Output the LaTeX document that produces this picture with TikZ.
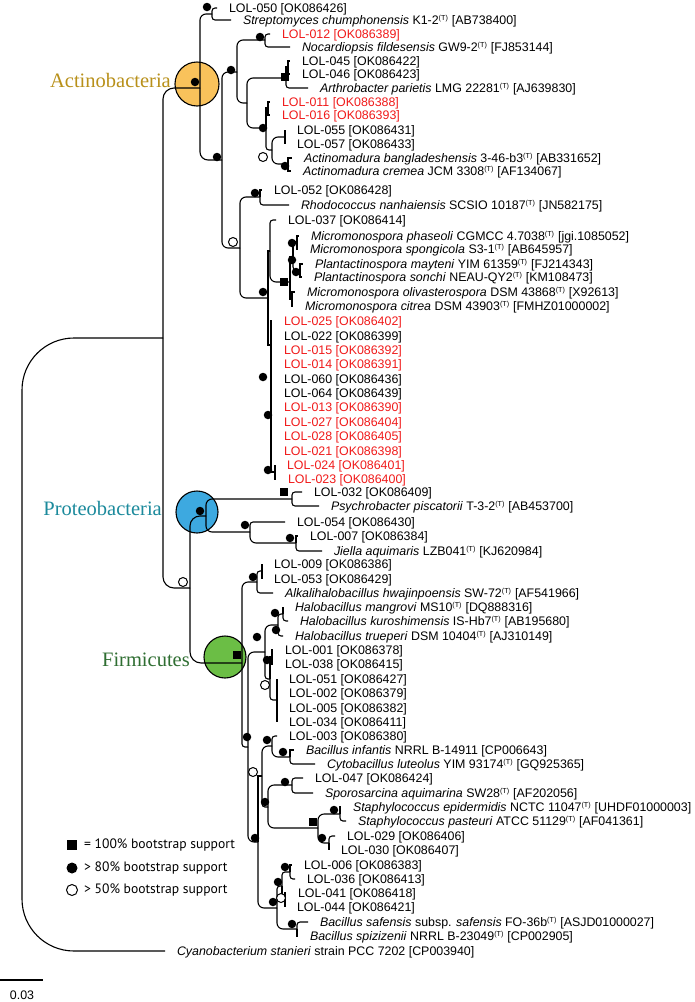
\documentclass[tikz,border=0pt]{standalone}
\usepackage{tikz}
\usepackage{fontspec}
\setmainfont{Liberation Sans}
\newfontfamily\grpfont{Liberation Serif}
\newfontfamily\legfont{PT Sans}
\definecolor{actfill}{HTML}{F9C25B}
\definecolor{profill}{HTML}{3DA9E0}
\definecolor{firfill}{HTML}{6BBE45}
\definecolor{acttext}{HTML}{B8901A}
\definecolor{protext}{HTML}{1C8A9C}
\definecolor{firtext}{HTML}{2F6E32}
\definecolor{redlab}{HTML}{F01A1A}
\newcommand\tS{\textsuperscript{\fontsize{7.2pt}{7.2pt}\selectfont(T)}}
\newcommand\leafnode[7]{\node[leaf,text=#6] (#1) at (#4,#5) {#7};\draw[#3] (#2) |- ([xshift=-12pt]#1.west);}
\newcommand\edg[3][bm]{\draw[#1] (#2) |- (#3);}
\newcommand\mk[4]{\node[#2] (#1) at (#3,#4) {};}
\begin{document}
\begin{tikzpicture}[x=1pt,y=-1pt,
 leaf/.style={anchor=west,inner sep=0pt,outer sep=0pt,text height=8.8pt,text depth=0pt,font=\fontsize{12.4pt}{14pt}\selectfont},
 br/.style={line width=1.1pt,rounded corners=3pt},
 bm/.style={line width=1.1pt,rounded corners=6pt},
 bs/.style={line width=1.1pt,sharp corners},
 dotm/.style={circle,fill=black,inner sep=0pt,minimum size=8.5pt},
 sqm/.style={rectangle,fill=black,inner sep=0pt,minimum size=8pt},
 opm/.style={circle,draw=black,fill=white,line width=1pt,inner sep=0pt,minimum size=9pt},
 grp/.style={anchor=base east,inner sep=0pt,font=\grpfont\fontsize{20.5pt}{24pt}\selectfont},
 clade/.style={circle,draw=black,line width=1.1pt,inner sep=0pt,minimum size=44pt},
 legtext/.style={anchor=west,inner sep=0pt,font=\legfont\fontsize{13.6pt}{15pt}\selectfont},
]
\useasboundingbox (0,0) rectangle (695,1002);
% clade circles
\node[clade,fill=actfill] (cA) at (197,84) {};
\node[clade,fill=profill,minimum size=42pt] (cP) at (197,512) {};
\node[clade,fill=firfill,minimum size=42pt] (cF) at (225,657) {};
\node[grp,text=acttext] (gA) at (171,87) {Actinobacteria};
\node[grp,text=protext] (gP) at (162,515) {Proteobacteria};
\node[grp,text=firtext] (gF) at (190,666) {Firmicutes};
% internal nodes
\coordinate (ROOT) at (22,645);
\coordinate (ING) at (163,338);
\coordinate (A) at (200,88);
\coordinate (PF) at (190,588);
\coordinate (C1) at (212,14);
\coordinate (C2) at (222,160);
\coordinate (C3) at (237,72);
\coordinate (C4) at (240,248);
\coordinate (N1) at (265,40);
\coordinate (N4) at (247,103);
\coordinate (N3) at (286,78);
\coordinate (N3a) at (288,67);
\coordinate (N5) at (266,128);
\coordinate (N5a) at (268,108);
\coordinate (N6) at (272,150);
\coordinate (N6a) at (285,137);
\coordinate (N7) at (288,164);
\coordinate (C5) at (260,197);
\coordinate (C6) at (268,298);
\coordinate (C7) at (270,251);
\coordinate (MM) at (290,282);
\coordinate (MM1) at (293,257);
\coordinate (MP) at (297,242);
\coordinate (PP) at (300,270);
\coordinate (MM3) at (292,299);
\coordinate (C8) at (271,345);
\coordinate (C9) at (275,472);
\coordinate (P) at (206,516);
\coordinate (P1) at (292,499);
\coordinate (P2) at (250,532);
\coordinate (P3) at (296,543);
\coordinate (F) at (242,663);
\coordinate (F1) at (257,582);
\coordinate (F1a) at (262,571);
\coordinate (G1) at (248,747);
\coordinate (X) at (265,652);
\coordinate (Hal) at (278,625);
\coordinate (HMK) at (283,614);
\coordinate (B1) at (270,679);
\coordinate (B1a) at (272,657);
\coordinate (B1b) at (277,700);
\coordinate (G2) at (258,842);
\coordinate (G3) at (262,776);
\coordinate (B2) at (272,746);
\coordinate (BIC) at (290,757);
\coordinate (S) at (268,807);
\coordinate (S1) at (292,785);
\coordinate (S2) at (318,828);
\coordinate (SS) at (340,814);
\coordinate (LL) at (329,843);
\coordinate (B3) at (277,908);
\coordinate (B3a) at (282,886);
\coordinate (B3a1) at (290,872);
\coordinate (B3a2) at (285,900);
\coordinate (B3b) at (297,929);
% internal edges
\edg[line width=1.1pt,rounded corners=11pt]{ING}{A}
\edg[line width=1.1pt,rounded corners=11pt]{ING}{PF}
\edg{A}{C1}
\edg[line width=1.1pt,rounded corners=8pt]{A}{C2}
\edg{C2}{C3}\edg{C2}{C4}
\edg{C3}{N1}\edg{C3}{N4}
\edg{N4}{N3}\edg{N4}{N5}
\edg[bs]{N3}{N3a}
\edg[bs]{N5}{N5a}\edg[br]{N5}{N6}
\edg{N6}{N6a}\edg{N6}{N7}
\edg{C4}{C5}\edg{C4}{C6}
\edg[bs]{C6}{C7}\edg[bs]{C6}{C8}
\edg{C7}{MM}
\edg[bs]{MM}{MM1}\edg[bs]{MM}{MM3}
\edg[bs]{MM1}{MP}\edg[br]{MM1}{PP}
\edg[bs]{C8}{C9}
\edg[line width=1.1pt,rounded corners=10pt]{PF}{P}
\edg[line width=1.1pt,rounded corners=11pt]{PF}{F}
\edg{P}{P1}\edg{P}{P2}
\edg{P2}{P3}
\edg{F}{F1}\edg[br]{F}{G1}
\edg[br]{F1}{F1a}
\edg{G1}{X}\edg{G1}{G2}
\edg{X}{Hal}\edg[br]{X}{B1}
\edg[br]{Hal}{HMK}
\edg[bs]{B1}{B1a}\edg[br]{B1}{B1b}
\edg[bs]{G2}{G3}\edg{G2}{B3}
\edg{G3}{B2}\edg[br]{G3}{S}
\edg{B2}{BIC}
\edg{S}{S1}\edg{S}{S2}
\edg{S2}{SS}\edg{S2}{LL}
\edg[br]{B3}{B3a}\edg{B3}{B3b}
\edg[br]{B3a}{B3a1}\edg[bs]{B3a}{B3a2}
% leaves
\leafnode{l050}{C1}{br}{229}{8}{black}{LOL-050 [OK086426]}
\leafnode{strep}{C1}{br}{243}{20}{black}{\textit{Streptomyces chumphonensis} K1-2\tS{} [AB738400]}
\leafnode{l012}{N1}{br}{282}{34}{redlab}{LOL-012 [OK086389]}
\leafnode{nocard}{N1}{br}{302}{47}{black}{\textit{Nocardiopsis fildesensis} GW9-2\tS{} [FJ853144]}
\leafnode{l045}{N3a}{bs}{302}{61}{black}{LOL-045 [OK086422]}
\leafnode{l046}{N3a}{bs}{302}{74}{black}{LOL-046 [OK086423]}
\leafnode{arthro}{N3}{br}{320}{88}{black}{\textit{Arthrobacter parietis} LMG 22281\tS{} [AJ639830]}
\leafnode{l011}{N5a}{bs}{282}{102}{redlab}{LOL-011 [OK086388]}
\leafnode{l016}{N5a}{bs}{282}{115}{redlab}{LOL-016 [OK086393]}
\leafnode{l055}{N6a}{bs}{297}{130}{black}{LOL-055 [OK086431]}
\leafnode{l057}{N6a}{bs}{297}{144}{black}{LOL-057 [OK086433]}
\leafnode{abang}{N7}{bs}{304}{158}{black}{\textit{Actinomadura bangladeshensis} 3-46-b3\tS{} [AB331652]}
\leafnode{acrem}{N7}{bs}{303}{171}{black}{\textit{Actinomadura cremea} JCM 3308\tS{} [AF134067]}
\leafnode{l052}{C5}{bs}{274}{190}{black}{LOL-052 [OK086428]}
\leafnode{rhodo}{C5}{br}{301}{205}{black}{\textit{Rhodococcus nanhaiensis} SCSIO 10187\tS{} [JN582175]}
\leafnode{l037}{C7}{br}{288}{220}{black}{LOL-037 [OK086414]}
\leafnode{phas}{MP}{bs}{311}{236}{black}{\textit{Micromonospora phaseoli} CGMCC 4.7038\tS{} [jgi.1085052]}
\leafnode{spong}{MP}{bs}{310}{249}{black}{\textit{Micromonospora spongicola} S3-1\tS{} [AB645957]}
\leafnode{mayt}{PP}{bs}{315}{264}{black}{\textit{Plantactinospora mayteni} YIM 61359\tS{} [FJ214343]}
\leafnode{sonch}{PP}{bs}{314}{277}{black}{\textit{Plantactinospora sonchi} NEAU-QY2\tS{} [KM108473]}
\leafnode{olivas}{MM3}{bs}{307}{292}{black}{\textit{Micromonospora olivasterospora} DSM 43868\tS{} [X92613]}
\leafnode{citrea}{MM3}{bs}{305}{306}{black}{\textit{Micromonospora citrea} DSM 43903\tS{} [FMHZ01000002]}
\leafnode{l025}{C8}{bs}{284}{321}{redlab}{LOL-025 [OK086402]}
\leafnode{l022}{C8}{bs}{284}{336}{black}{LOL-022 [OK086399]}
\leafnode{l015}{C8}{bs}{284}{350}{redlab}{LOL-015 [OK086392]}
\leafnode{l014}{C8}{bs}{284}{364}{redlab}{LOL-014 [OK086391]}
\leafnode{l060}{C8}{bs}{284}{379}{black}{LOL-060 [OK086436]}
\leafnode{l064}{C8}{bs}{284}{393}{black}{LOL-064 [OK086439]}
\leafnode{l013}{C8}{bs}{284}{407}{redlab}{LOL-013 [OK086390]}
\leafnode{l027}{C8}{bs}{284}{422}{redlab}{LOL-027 [OK086404]}
\leafnode{l028}{C8}{bs}{284}{436}{redlab}{LOL-028 [OK086405]}
\leafnode{l021}{C8}{bs}{284}{451}{redlab}{LOL-021 [OK086398]}
\leafnode{l024}{C9}{bs}{287}{465}{redlab}{LOL-024 [OK086401]}
\leafnode{l023}{C9}{bs}{288}{479}{redlab}{LOL-023 [OK086400]}
\leafnode{l032}{P1}{br}{314}{492}{black}{LOL-032 [OK086409]}
\leafnode{psych}{P1}{br}{331}{506}{black}{\textit{Psychrobacter piscatorii} T-3-2\tS{} [AB453700]}
\leafnode{l054}{P2}{br}{297}{522}{black}{LOL-054 [OK086430]}
\leafnode{l007}{P3}{bs}{310}{536}{black}{LOL-007 [OK086384]}
\leafnode{jiella}{P3}{br}{334}{551}{black}{\textit{Jiella aquimaris} LZB041\tS{} [KJ620984]}
\leafnode{l009}{F1a}{bs}{274}{564}{black}{LOL-009 [OK086386]}
\leafnode{l053}{F1a}{bs}{274}{579}{black}{LOL-053 [OK086429]}
\leafnode{alkali}{F1}{br}{285}{593}{black}{\textit{Alkalihalobacillus hwajinpoensis} SW-72\tS{} [AF541966]}
\leafnode{mangr}{HMK}{bs}{295}{607}{black}{\textit{Halobacillus mangrovi} MS10\tS{} [DQ888316]}
\leafnode{kuro}{HMK}{br}{300}{621}{black}{\textit{Halobacillus kuroshimensis} IS-Hb7\tS{} [AB195680]}
\leafnode{truep}{Hal}{br}{295}{636}{black}{\textit{Halobacillus trueperi} DSM 10404\tS{} [AJ310149]}
\leafnode{l001}{B1a}{bs}{285}{650}{black}{LOL-001 [OK086378]}
\leafnode{l038}{B1a}{bs}{285}{664}{black}{LOL-038 [OK086415]}
\leafnode{l051}{B1b}{bs}{289}{679}{black}{LOL-051 [OK086427]}
\leafnode{l002}{B1b}{bs}{289}{693}{black}{LOL-002 [OK086379]}
\leafnode{l005}{B1b}{bs}{289}{708}{black}{LOL-005 [OK086382]}
\leafnode{l034}{B1b}{bs}{289}{722}{black}{LOL-034 [OK086411]}
\leafnode{l003}{B2}{br}{289}{736}{black}{LOL-003 [OK086380]}
\leafnode{binf}{BIC}{bs}{306}{750}{black}{\textit{Bacillus infantis} NRRL B-14911 [CP006643]}
\leafnode{cyto}{BIC}{br}{327}{764}{black}{\textit{Cytobacillus luteolus} YIM 93174\tS{} [GQ925365]}
\leafnode{l047}{S1}{br}{315}{778}{black}{LOL-047 [OK086424]}
\leafnode{spor}{S1}{br}{325}{793}{black}{\textit{Sporosarcina aquimarina} SW28\tS{} [AF202056]}
\leafnode{sepi}{SS}{bs}{353}{807}{black}{\textit{Staphylococcus epidermidis} NCTC 11047\tS{} [UHDF01000003]}
\leafnode{spast}{SS}{br}{358}{821}{black}{\textit{Staphylococcus pasteuri} ATCC 51129\tS{} [AF041361]}
\leafnode{l029}{LL}{br}{347}{836}{black}{LOL-029 [OK086406]}
\leafnode{l030}{LL}{bs}{341}{850}{black}{LOL-030 [OK086407]}
\leafnode{l006}{B3a1}{bs}{304}{865}{black}{LOL-006 [OK086383]}
\leafnode{l036}{B3a1}{br}{307}{879}{black}{LOL-036 [OK086413]}
\leafnode{l041}{B3a2}{bs}{298}{893}{black}{LOL-041 [OK086418]}
\leafnode{l044}{B3a2}{bs}{297}{907}{black}{LOL-044 [OK086421]}
\leafnode{bsaf}{B3b}{br}{320}{922}{black}{\textit{Bacillus safensis} subsp. \textit{safensis} FO-36b\tS{} [ASJD01000027]}
\leafnode{bspiz}{B3b}{bs}{310}{936}{black}{\textit{Bacillus spizizenii} NRRL B-23049\tS{} [CP002905]}
\node[leaf] (cyano) at (177,951) {\textit{Cyanobacterium stanieri} strain PCC 7202 [CP003940]};
\draw[line width=1.1pt,rounded corners=52pt] (ING) -| (ROOT) |- ([xshift=-12pt]cyano.west);
% support markers
\mk{m1}{dotm}{207}{7}
\mk{m2}{dotm}{195}{82}
\mk{m3}{dotm}{217}{157}
\mk{m4}{dotm}{231}{70}
\mk{m5}{dotm}{260}{37}
\mk{m6}{sqm}{285}{77}
\mk{m7}{dotm}{263}{128}
\mk{m8}{opm}{263}{157}
\mk{m9}{dotm}{285}{166}
\mk{m10}{opm}{233}{242}
\mk{m11}{dotm}{255}{193}
\mk{m12}{dotm}{292}{243}
\mk{m13}{dotm}{292}{260}
\mk{m14}{dotm}{296}{272}
\mk{m15}{sqm}{284}{282}
\mk{m16}{dotm}{263}{292}
\mk{m17}{dotm}{263}{377}
\mk{m18}{dotm}{268}{415}
\mk{m19}{dotm}{268}{470}
\mk{m20}{dotm}{200}{511}
\mk{m21}{sqm}{284}{492}
\mk{m22}{dotm}{245}{525}
\mk{m23}{dotm}{290}{538}
\mk{m24}{opm}{183}{582}
\mk{m25}{sqm}{237}{655}
\mk{m26}{dotm}{253}{577}
\mk{m27}{dotm}{257}{637}
\mk{m28}{dotm}{275}{613}
\mk{m29}{dotm}{276}{630}
\mk{m30}{dotm}{267}{660}
\mk{m31}{opm}{265}{685}
\mk{m32}{dotm}{247}{737}
\mk{m33}{dotm}{267}{740}
\mk{m34}{dotm}{283}{752}
\mk{m35}{opm}{253}{772}
\mk{m36}{dotm}{285}{782}
\mk{m37}{dotm}{265}{802}
\mk{m38}{dotm}{334}{810}
\mk{m39}{sqm}{313}{822}
\mk{m40}{dotm}{322}{838}
\mk{m41}{dotm}{255}{838}
\mk{m42}{dotm}{285}{867}
\mk{m43}{dotm}{278}{882}
\mk{m44}{opm}{281}{898}
\mk{m45}{dotm}{273}{902}
\mk{m46}{dotm}{292}{924}
% legend
\node[sqm,minimum size=10pt] (lg1) at (72,845) {};
\node[legtext] (lt1) at (84,845) {= 100\% bootstrap support};
\node[dotm,minimum size=11pt] (lg2) at (72,868) {};
\node[legtext] (lt2) at (84,868) {> 80\% bootstrap support};
\node[opm,minimum size=11pt] (lg3) at (72,890) {};
\node[legtext] (lt3) at (84,890) {> 50\% bootstrap support};
% scale bar
\coordinate (sb1) at (0,980);
\coordinate (sb2) at (43,980);
\draw[line width=1.1pt] (sb1) -- (sb2);
\node[inner sep=0pt,font=\fontsize{12.4pt}{14pt}\selectfont] (sbl) at (22,995) {0.03};
\end{tikzpicture}
\end{document}
